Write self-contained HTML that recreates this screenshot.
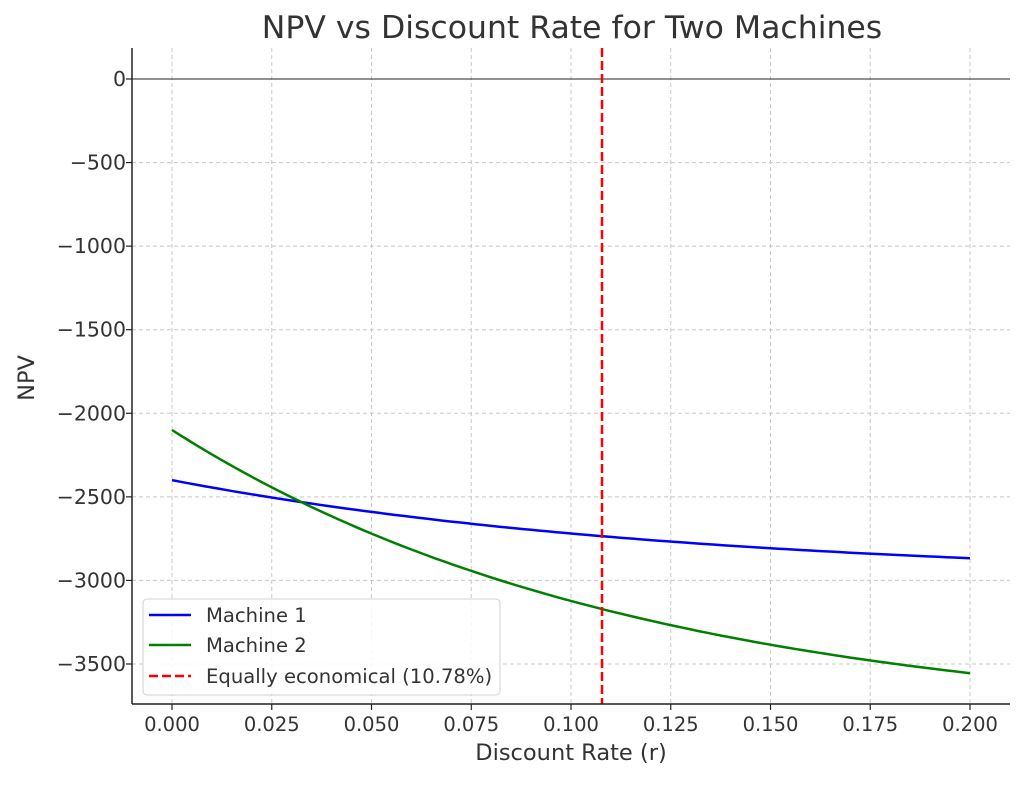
<!DOCTYPE html>
<html><head><meta charset="utf-8"><style>
body{margin:0;background:#fff}
text{font-family:"DejaVu Sans","Liberation Sans",sans-serif;fill:#333}
</style></head><body>
<svg id="s" width="1024" height="780" xmlns="http://www.w3.org/2000/svg">
<rect width="1024" height="780" fill="#fff"/>
<g id="grid" stroke="#c8c8c8" stroke-width="1" stroke-dasharray="4,3"></g>
<line x1="132" y1="79" x2="1010" y2="79" stroke="#222" stroke-width="1"/>
<path id="m1" fill="none" stroke="#0000ff" stroke-width="2.5"/>
<path id="m2" fill="none" stroke="#008000" stroke-width="2.5"/>
<line x1="602" y1="48" x2="602" y2="704" stroke="#ff0000" stroke-width="2.5" stroke-dasharray="9,4"/>
<line x1="132" y1="48" x2="132" y2="704" stroke="#222" stroke-width="1.5"/>
<line x1="132" y1="704" x2="1010" y2="704" stroke="#222" stroke-width="1.5"/>
<g id="ticks"></g>
<text x="572" y="38" font-size="31.5" text-anchor="middle">NPV vs Discount Rate for Two Machines</text>
<text x="571" y="760" font-size="22.5" text-anchor="middle">Discount Rate (r)</text>
<text transform="translate(34,378) rotate(-90)" font-size="22.5" text-anchor="middle">NPV</text>
<rect x="143" y="599" width="357" height="96" rx="4" fill="#fff" fill-opacity="0.85" stroke="#d0d0d0"/>
<line x1="149" y1="615" x2="191" y2="615" stroke="#0000ff" stroke-width="2.5"/>
<line x1="149" y1="645" x2="191" y2="645" stroke="#008000" stroke-width="2.5"/>
<line x1="149" y1="676" x2="191" y2="676" stroke="#ff0000" stroke-width="2.5" stroke-dasharray="9,4"/>
<text x="206" y="622" font-size="19.6">Machine 1</text>
<text x="206" y="652" font-size="19.6">Machine 2</text>
<text x="206" y="683" font-size="19.6">Equally economical (10.78%)</text>
</svg>
<script>
var X=r=>172+r*3990, Y=v=>79-v*83.57/500;
var g=document.getElementById('grid'),t=document.getElementById('ticks'),ns="http://www.w3.org/2000/svg";
function el(p,n,a,txt){var e=document.createElementNS(ns,n);for(var k in a)e.setAttribute(k,a[k]);if(txt)e.textContent=txt;p.appendChild(e);}
for(var i=0;i<=8;i++){var r=i*0.025,x=X(r);el(g,'line',{x1:x,y1:48,x2:x,y2:704});
el(t,'line',{x1:x,y1:704,x2:x,y2:710,stroke:'#222','stroke-width':1.2});
el(t,'text',{x:x,y:731,'font-size':19.5,'text-anchor':'middle'},r.toFixed(3));}
for(var v=0;v>=-3500;v-=500){var y=Y(v);el(g,'line',{x1:132,y1:y,x2:1010,y2:y});
el(t,'line',{x1:126,y1:y,x2:132,y2:y,stroke:'#222','stroke-width':1.2});
el(t,'text',{x:126,y:y+7,'font-size':20.5,'text-anchor':'end'},v==0?'0':'\u2212'+(-v));}
var p1='',p2='';
for(var i=0;i<=100;i++){var r=i*0.002;
var a=-2400-594*(1-Math.pow(0.68,r/0.05)),b=-2100-1771*(1-Math.pow(0.65,r/0.05));
p1+=(i?'L':'M')+X(r).toFixed(1)+' '+Y(a).toFixed(1);p2+=(i?'L':'M')+X(r).toFixed(1)+' '+Y(b).toFixed(1);}
document.getElementById('m1').setAttribute('d',p1);document.getElementById('m2').setAttribute('d',p2);
</script>
</body></html>
